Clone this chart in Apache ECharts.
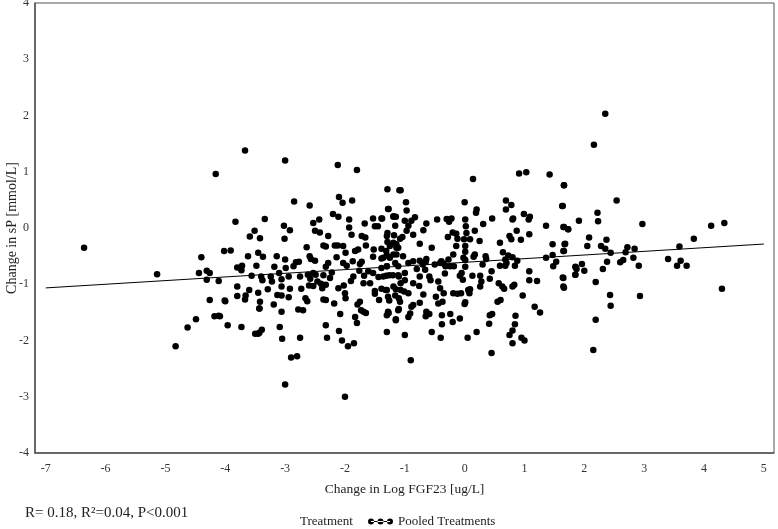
<!DOCTYPE html>
<html>
<head>
<meta charset="utf-8">
<script src="https://cdn.jsdelivr.net/npm/echarts@6/dist/echarts.min.js"></script>
<style>
  html, body { margin: 0; padding: 0; background: #fff; }
  #chart { width: 778px; height: 529px; }
</style>
</head>
<body>
<div id="chart"></div>
<script>
// change in log FGF23 (x) and change in sP (y)
const fgfChange = [
  -6.36, -5.14, -4.16, -4.40, -4.44, -4.31, -4.26, -4.31, -4.11, -4.26, -4.18, -4.11, -4.49, -4.63,
  -4.83, -4.09, -3.96, -3.73, -3.43, -4.00, -3.43, -3.67,
  2.35, 2.16, 1.66, 1.64, 2.54, 1.66, 1.73, 1.91, 2.22, 2.23, 2.97, 4.12, 4.34, 3.83, 3.59, 2.08,
  2.05, 1.68, 1.66, 2.37, 2.28, 2.35, 2.44, 2.72, 2.84, 2.69, 2.82, 2.65, 2.60, 2.38, 2.91, 2.31,
  1.96, 1.86, 2.00, 1.85, 3.40, 3.61, 3.55, 3.71, 1.65, 1.66, 2.19, 4.30, 2.43, 2.93, 2.44, 2.19,
  -3.00, -2.12, -1.80, -1.29, -1.09, -2.85, -2.59, -2.10, -2.04, -1.88, -2.20, -2.11, -1.93, -1.27,
  -1.19, -3.83, -3.34, -2.43, -2.53, -1.93, -1.67, -1.53, -1.38, -3.02, -2.92, -3.01, -3.51, -3.59,
  -3.42, -2.50, -2.42, -2.28, -2.36, -2.32, -2.64, -2.12, -1.89, -1.72, -1.66, -1.65, -1.78, -1.50,
  -1.45, -1.29, -1.15, -1.17, -1.14, -1.39, -1.31, -1.52, -2.17, -2.03, -1.99, -1.83, -2.14, -2.28,
  -2.32, -2.50, -2.59, -2.57, -2.82, -2.77, -2.86, -3.00, -3.14, -3.37, -3.45, -3.62, -3.80, -3.72,
  -3.73, -4.02, -3.91, -3.48, -3.18, -2.99, -3.10, -3.24, -3.40, -3.56, -3.38, -3.22, -3.06, -2.94,
  -2.75, -2.62, -2.53, -2.49, -2.36, -2.46, -2.40, -2.38, -2.32, -2.25, -2.22, -2.58, -2.60, -2.53,
  -2.73, -2.92, -3.06, -3.13, -3.06, -3.29, -3.60, -3.80, -3.66, -3.45, -3.80, -4.01, -3.42, -2.94,
  -2.66, -2.63, -2.36, -2.32, -2.18, -2.11, -2.02, -2.00, -1.99, -1.90, -1.86, -1.76, -1.75, -1.72,
  -1.97, -2.03, -1.87, -1.68, -1.61, -1.53, -1.44, -1.31, -1.20, -1.10, -1.53, -1.39, -1.30, -1.11,
  -1.69, -1.58, -1.39, -1.50, -1.50, -1.32, -1.15, -1.43, -1.26, -1.10, -1.75, -1.79, -1.73, -1.69,
  -1.65, -1.83, -1.80, -2.08, -2.32, -2.70, -2.78, -3.06, -3.19, -3.43, -3.67, -3.39, -3.09,
  -1.27, -1.15, -1.10,
  0.14, 0.91, 1.03, 1.42, 1.66, 1.63, -1.07, -0.98, -0.97, -1.28, -1.39, -1.00, -1.19, -1.16,
  -1.30, -1.29, -1.18, -1.14, -1.08, -1.04, -0.97, -0.94, -0.83, -0.89, -0.86, -0.75, -0.69, -0.64,
  -0.46, -0.30, -0.22, -0.26, 0.01, 0.20, 0.19, 0.00, 0.02, 0.17, 0.03, -0.20, -0.14, -0.28,
  -0.12, -0.01, 0.01, 0.09, 0.25, 0.31, 0.46, 0.69, 0.78, 0.69, 0.99, 1.07, 1.09, 0.81, 0.80,
  0.87, 0.75, 0.78, 0.94, 1.08, 1.36, 1.65, 1.73, 1.47, 1.67, 1.65, 1.47, 1.36, 1.48, 1.53, 1.85,
  1.87, 1.85, 1.64, 1.65, 1.21, 1.08, 1.08, 0.84, 0.88, 0.73, 0.64, 0.68, 0.80, 0.59, 0.59, 0.68,
  0.70, 0.45, 0.35, 0.36, 0.17, 0.15, 0.30, 0.26, 0.13, 0.28, 0.42, 0.57, 0.63, 0.66, 0.83, 0.80,
  0.55, 0.60, 0.97, 1.17, 1.26, 0.85, 0.84, 0.46, 0.41, 0.06, 0.08, -0.03, -0.08, -0.05, 0.01,
  0.01, -0.02, 0.01, -0.14, -0.19, -0.27, -0.32, -0.39, -0.24, -0.18, -0.33, -0.44, -0.41, -0.35,
  -0.19, -0.12, -0.06, 0.01, 0.09, 0.00, -0.37, -0.48, -0.69, -0.76, -0.86, -0.75, -0.59, -0.57,
  -0.66, -0.70, -0.65, -0.64, -0.75, -0.80, -0.86, -0.55, -0.41, -0.50, -0.35, -0.94, -1.03, -1.14,
  -1.19, -1.25, -1.30, -1.36, -1.16, -1.25, -1.11, -1.19, -1.39, -1.30, -1.36, -1.26, -1.11, -1.00,
  -1.00, -1.07, -1.19, -1.30, -1.07, -1.01, -1.28, -1.16, -0.94, -1.08, -0.89, -0.86, -1.11, -1.28,
  -0.91, -0.94, -0.75, -0.64, -0.65, -0.59, -0.44, -0.38, -0.24, -0.20, -0.08, -0.38, -1.15, -1.30,
  0.26, 0.42,
  -3.00, -2.00, -2.90, -2.80, -0.90, 0.45, 1.00, 2.15, -2.05, -1.85, -3.50, -3.45, -2.30, -1.00,
  -0.40, 0.20, 0.75, 0.80, -2.75, -3.05, -1.95, 0.05, -0.55, 0.95, 0.80, -2.10, -1.30
];
const spChange = [
  -0.35, -0.82, 0.96, -0.52, -0.80, -0.76, -0.80, -0.92, -0.94, -1.28, -1.57, -1.56, -1.62, -1.77,
  -2.10, -1.57, -1.73, -1.76, -1.86, -1.30, -1.43, 1.38,
  2.03, 1.48, 0.76, 0.39, 0.49, 0.02, -0.02, 0.13, 0.27, 0.12, 0.07, 0.04, 0.09, -0.19, -0.33, -0.17,
  -0.32, -0.28, -0.41, -0.21, -0.32, -0.37, -0.44, -0.34, -0.37, -0.43, -0.53, -0.57, -0.61, -0.60, -0.67, -0.73,
  -0.64, -0.70, -0.76, -0.83, -0.55, -0.58, -0.67, -0.67, -0.89, -1.06, -0.96, -1.08, -1.19, -1.21, -1.38, -1.63,
  1.20, 1.12, 1.03, 0.69, 0.67, 0.47, 0.40, 0.55, 0.45, 0.49, 0.25, 0.20, 0.15, 0.34,
  0.20, 0.11, 0.16, 0.15, 0.09, 0.01, 0.08, 0.17, 0.17, 0.04, -0.04, -0.19, -0.05, -0.15,
  -0.18, -0.05, -0.08, -0.14, -0.31, -0.33, -0.34, -0.31, -0.12, -0.14, -0.17, -0.31, -0.38, 0.03,
  0.03, -0.09, 0.20, -0.29, -0.35, -0.37, -0.41, -0.38, -0.31, -0.32, -0.44, -0.41, -0.52, -0.62,
  -0.69, -0.58, -0.50, -0.55, -0.61, -0.60, -0.68, -0.56, -0.50, -0.51, -0.44, -0.50, -0.70, -0.67,
  -0.75, -0.41, -0.40, -0.67, -0.69, -0.71, -0.80, -0.86, -0.86, -0.85, -0.93, -0.95, -0.91, -0.86,
  -0.86, -0.83, -0.80, -0.83, -0.84, -0.95, -0.99, -1.07, -1.01, -0.89, -0.79, -0.90, -1.02, -1.03,
  -1.08, -1.08, -1.04, -1.19, -1.20, -1.09, -1.10, -1.04, -1.20, -1.15, -1.21, -1.29, -1.31, -1.23,
  -1.25, -1.30, -1.27, -1.28, -1.34, -1.07, -1.02, -1.16, -1.25, -0.94, -0.86, -0.76, -0.64, -0.60,
  -0.67, -0.62, -0.59, -0.85, -0.77, -0.80, -0.87, -0.85, -0.84, -0.86, -0.51, -0.54, -0.68, -0.68,
  -0.98, -0.98, -1.08, -1.12, -1.17, -1.10, -1.09, -1.28, -1.29, -1.25, -1.31, -1.36, -1.46, -1.49,
  -1.51, -1.58, -1.69, -1.53, -1.73, -1.46, -1.45, -1.49, -1.36, -1.43, -1.27, -1.81, -1.76,
  -1.51, -1.64, -1.44,
  0.87, 0.97, 0.99, 0.95, 0.76, 0.39, 0.67, 0.46, 0.31, 0.34, 0.17, 0.13, 0.21, 0.04,
  -0.14, -0.25, -0.13, -0.29, -0.19, -0.16, -0.05, 0.04, 0.19, 0.13, -0.12, -0.28, -0.04, 0.08,
  0.15, 0.16, 0.17, 0.11, 0.15, 0.33, 0.27, 0.46, 0.03, -0.05, -0.09, -0.08, -0.10, -0.16,
  -0.19, -0.20, -0.32, -0.20, -0.23, 0.07, 0.17, 0.49, 0.41, 0.33, 0.25, 0.15, 0.20, 0.17, 0.15,
  -0.05, -0.14, -0.20, -0.21, -0.11, 0.04, 0.02, -0.02, -0.29, -0.29, -0.41, -0.48, -0.53, -0.68, -0.60, -0.69,
  -0.73, -0.83, -0.88, -1.04, -0.94, -0.93, -0.77, -0.67, -0.58, -0.49, -0.43, -0.56, -0.52, -0.26, -0.67, -0.67,
  -0.62, -0.77, -0.50, -0.55, -0.47, -0.51, -0.65, -0.85, -0.85, -0.95, -0.90, -0.98, -1.04, -1.08, -1.01, -1.04,
  -1.31, -1.28, -1.20, -1.40, -1.50, -1.56, -1.71, -1.53, -1.70, -1.10, -1.16, -0.92, -0.85, -0.80, -0.69,
  -0.57, -0.53, -0.42, -0.32, -0.47, -0.56, -0.68, -0.59, -0.68, -0.68, -0.81, -0.95, -1.07, -1.16,
  -1.16, -1.17, -1.16, -1.32, -1.09, -1.35, -1.31, -1.22, -1.18, -1.03, -0.98, -0.86, -0.86, -0.93,
  -0.74, -0.65, -0.60, -0.55, -0.58, -0.73, -0.59, -0.35, -0.62, -0.65, -0.63, -0.62, -0.50, -0.47,
  -0.47, -0.53, -0.49, -0.53, -0.62, -0.32, -0.35, -0.26, -0.71, -0.68, -0.86, -0.84, -0.84, -0.80,
  -0.93, -0.98, -1.04, -1.10, -1.10, -1.13, -1.22, -1.20, -1.16, -1.31, -1.40, -1.37, -1.46, -1.49,
  -1.52, -1.58, -1.33, -1.49, -1.57, -1.53, -1.34, -1.55, -1.53, -1.67, -1.61, -1.71, -1.62, -1.55,
  -1.04, -1.55,
  -2.78, -3.00, -2.30, -2.28, -2.35, -2.22, -2.00, -2.17, -2.00, -2.05, -1.88, -1.88, -1.95, -1.90,
  -1.95, -1.85, -1.90, -2.05, -1.95, -1.97, -2.10, -1.95, -1.85, -1.95, -1.82, -1.83, -1.85
];
const xTickValues = [-7, -6, -5, -4, -3, -2, -1, 0, 1, 2, 3, 4, 5];
// fitted line as drawn in the picture: intercept, slope, x span
const fitCoef = [-0.61, 0.065];
const fitRange = [-7, 5];

const points = fgfChange.map((x, i) => [x, spChange[i]]);
const fitLine = fitRange.map(x => [x, fitCoef[0] + fitCoef[1] * x]);

const serif = '"Liberation Serif", "Times New Roman", serif';
const chart = echarts.init(document.getElementById('chart'));

chart.setOption({
  animation: false,
  textStyle: { fontFamily: serif },
  grid: {
    left: 35, right: 4, top: 3, bottom: 76,
    outerBoundsMode: 'none',
    containLabel: false,
    show: true, borderColor: '#555', borderWidth: 1
  },
  xAxis: {
    type: 'value',
    min: -7.18, max: 5.17,
    name: 'Change in Log FGF23 [ug/L]',
    nameLocation: 'middle',
    nameGap: 29,
    nameMoveOverlap: false,
    nameTextStyle: { fontFamily: serif, fontSize: 13.5, color: '#222' },
    axisLine: { onZero: false, lineStyle: { color: '#555', width: 1.5 } },
    axisTick: { show: false },
    splitLine: { show: false },
    axisLabel: {
      customValues: xTickValues,
      fontFamily: serif, fontSize: 12, color: '#333', margin: 10
    }
  },
  yAxis: {
    type: 'value',
    min: -4, max: 4, interval: 1,
    name: 'Change in sP [mmol/L]',
    nameLocation: 'middle',
    nameGap: 16,
    nameMoveOverlap: false,
    nameTextStyle: { fontFamily: serif, fontSize: 14, color: '#222' },
    axisLine: { show: true, onZero: false, lineStyle: { color: '#555', width: 1.5 } },
    axisTick: { show: false },
    splitLine: { show: false },
    axisLabel: { fontFamily: serif, fontSize: 12, color: '#333', margin: 6 }
  },
  legend: {
    data: [{
      name: 'Pooled Treatments',
      icon: 'path://M0,3a3,3 0 1,0 6,0a3,3 0 1,0 -6,0Z M9.5,3a3,3 0 1,0 6,0a3,3 0 1,0 -6,0Z M19,3a3,3 0 1,0 6,0a3,3 0 1,0 -6,0Z M3,2.5h19v1h-19Z'
    }],
    left: 363, top: 510, padding: 5,
    itemWidth: 25, itemHeight: 6, itemGap: 6,
    textStyle: { fontFamily: serif, fontSize: 13, color: '#222' }
  },
  graphic: [
    {
      type: 'text', left: 300, top: 515,
      style: { text: 'Treatment', font: '13px ' + serif, fill: '#222' }
    },
    {
      type: 'text', left: 25, top: 506,
      style: { text: 'R= 0.18, R\u00b2=0.04, P<0.001', font: '15px ' + serif, fill: '#222' }
    }
  ],
  series: [
    {
      name: 'Pooled Treatments',
      type: 'scatter',
      data: points,
      symbolSize: 6.5,
      itemStyle: { color: '#000', opacity: 1 },
      z: 3
    },
    {
      name: 'Fit',
      type: 'line',
      data: fitLine,
      symbol: 'none',
      lineStyle: { color: '#000', width: 1 },
      z: 4
    }
  ]
});
</script>
</body>
</html>
